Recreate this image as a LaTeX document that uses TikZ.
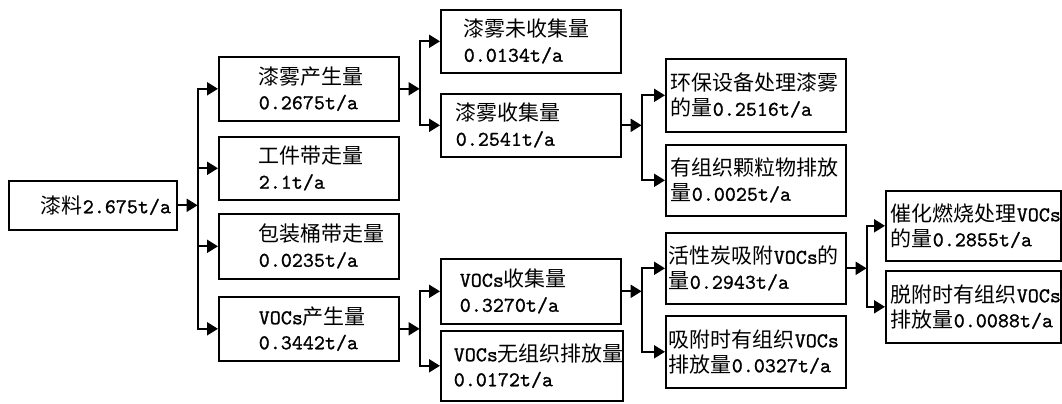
\documentclass[tikz,border=0pt]{standalone}
\usepackage{fontspec}
\setmonofont{Latin Modern Mono}[FakeBold=1]
\newfontfamily\cjk{Noto Sans CJK SC}
\newcommand{\zh}[1]{{\cjk #1}}
\usetikzlibrary{arrows.meta}
\tikzset{>={Triangle[length=5.5pt,width=6.5pt]},
box/.style 2 args={
draw,
line width=0.8pt,
anchor=north west,
align=left,
inner ysep=0pt,
inner xsep=#1,
text width=#2,
font=\ttfamily\fontsize{10.5}{12.5}\selectfont},
link/.style={
->,
line width=1pt}}

\begin{document}
\begin{tikzpicture}[x=0.5pt, y=-0.5pt]
\useasboundingbox (0,0) rectangle (1062,403);
% source
\node[box={16pt}{52pt}, minimum height=24.5pt] (lq) at (8,180) {\zh{漆料}2.675t/a};
% second column
\node[box={20pt}{50pt}, minimum height=32pt] (wsc) at (218,56) {\zh{漆雾产生量}\\0.2675t/a};
\node[box={20pt}{50pt}, minimum height=31.5pt] (gj) at (218,136) {\zh{工件带走量}\\2.1t/a};
\node[box={20pt}{50pt}, minimum height=32.5pt] (bz) at (218,213) {\zh{包装桶带走量}\\0.0235t/a};
\node[box={20pt}{50pt}, minimum height=32pt] (vsc) at (218,296) {VOCs\zh{产生量}\\0.3442t/a};
% third column
\node[box={11.5pt}{67pt}, minimum height=31.5pt] (wwsj) at (440,9) {\zh{漆雾未收集量}\\0.0134t/a};
\node[box={7.5pt}{75pt}, minimum height=31.5pt] (wsj) at (440,93) {\zh{漆雾收集量}\\0.2541t/a};
\node[box={9.5pt}{71pt}, minimum height=32.5pt] (vsj) at (440,258) {VOCs\zh{收集量}\\0.3270t/a};
\node[box={6.5pt}{78pt}, minimum height=35pt] (vwz) at (440,330) {VOCs\zh{无组织排放量}\\0.0172t/a};
% fourth column
\node[box={2.5pt}{85pt}, minimum height=36.5pt] (hb) at (665,58) {\zh{环保设备处理漆雾}\\\zh{的量}0.2516t/a};
\node[box={2.5pt}{85pt}, minimum height=35.5pt] (kl) at (665,144) {\zh{有组织颗粒物排放}\\\zh{量}0.0025t/a};
\node[box={1.5pt}{87pt}, minimum height=35.5pt] (hxt) at (665,232) {\zh{活性炭吸附}VOCs\zh{的}\\\zh{量}0.2943t/a};
\node[box={1.5pt}{87pt}, minimum height=36pt] (xf) at (665,315) {\zh{吸附时有组织}VOCs\\\zh{排放量}0.0327t/a};
% fifth column
\node[box={2.5pt}{82.5pt}, minimum height=35pt] (ch) at (885,190) {\zh{催化燃烧处理}VOCs\\\zh{的量}0.2855t/a};
\node[box={2.5pt}{82.5pt}, minimum height=36pt] (tf) at (885,270) {\zh{脱附时有组织}VOCs\\\zh{排放量}0.0088t/a};
% arrows into the buses
\draw[link] (lq.east) -- ++(20,0);
\draw[link] (wsc.east) -- ++(20,0);
\draw[link] (vsc.east) -- ++(20,0);
\draw[link] (wsj.east) -- ++(20,0);
\draw[link] (vsj.east) -- ++(20,0);
\draw[link] (hxt.east) -- ++(20,0);
% buses to the targets
\draw[link] ([xshift=10pt]lq.east) |- (wsc.west);
\draw[link] ([xshift=10pt]lq.east) |- (gj.west);
\draw[link] ([xshift=10pt]lq.east) |- (bz.west);
\draw[link] ([xshift=10pt]lq.east) |- (vsc.west);
\draw[link] ([xshift=10pt]wsc.east) |- (wwsj.west);
\draw[link] ([xshift=10pt]wsc.east) |- (wsj.west);
\draw[link] ([xshift=10pt]vsc.east) |- (vsj.west);
\draw[link] ([xshift=10pt]vsc.east) |- (vwz.west);
\draw[link] ([xshift=10pt]wsj.east) |- (hb.west);
\draw[link] ([xshift=10pt]wsj.east) |- (kl.west);
\draw[link] ([xshift=10pt]vsj.east) |- (hxt.west);
\draw[link] ([xshift=10pt]vsj.east) |- (xf.west);
\draw[link] ([xshift=10pt]hxt.east) |- (ch.west);
\draw[link] ([xshift=10pt]hxt.east) |- (tf.west);
\end{tikzpicture}
\end{document}
